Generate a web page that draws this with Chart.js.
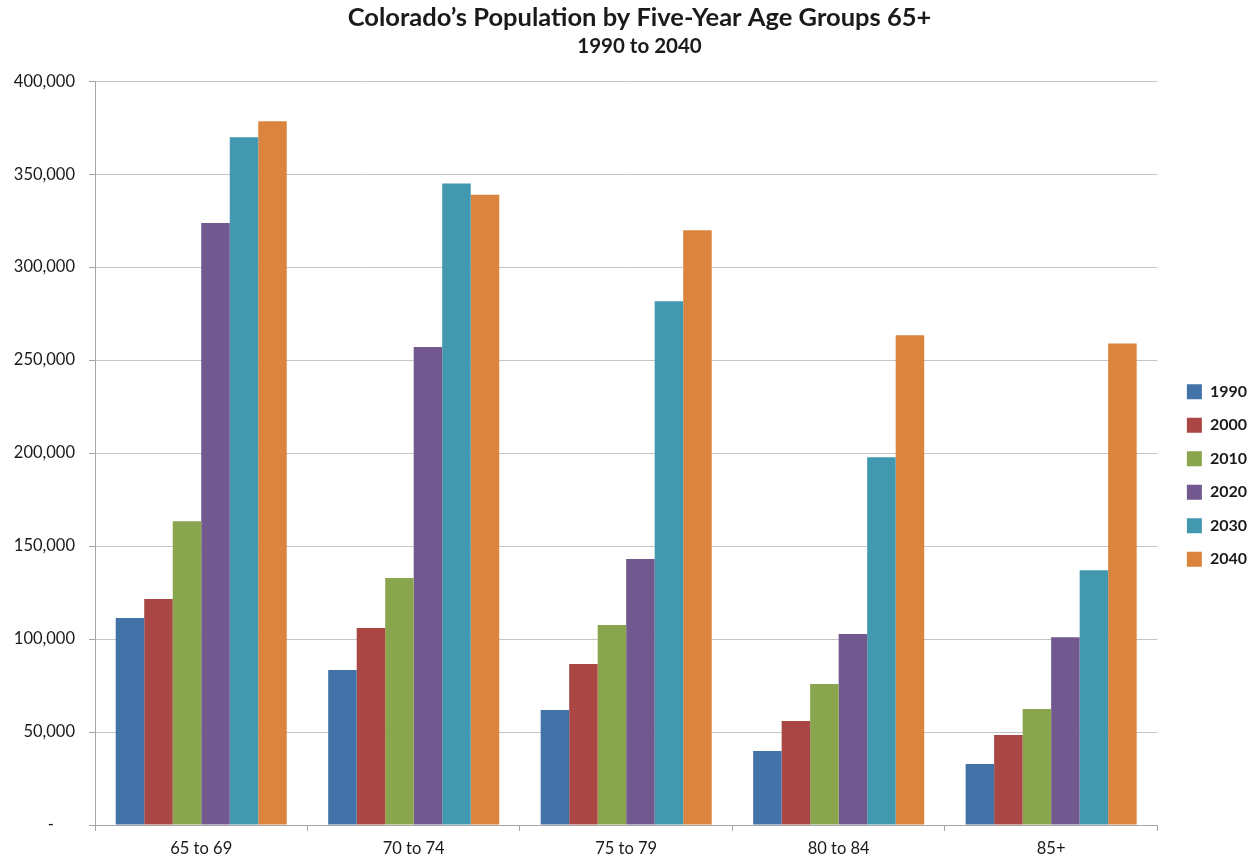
<!DOCTYPE html>
<html>
<head>
<meta charset="utf-8">
<script src="https://cdn.jsdelivr.net/npm/chart.js@4/dist/chart.umd.min.js"></script>
<style>
  html, body { margin: 0; padding: 0; background: #fff; }
  #wrap { width: 1253px; height: 859px; }
</style>
</head>
<body>
<div id="wrap"><canvas id="popChart"></canvas></div>
<script>
// age groups on the x axis
const ageGroups = ['65 to 69', '70 to 74', '75 to 79', '80 to 84', '85+'];

// population by year, one value per age group
const pop1990 = [111300, 83300, 61800, 39800, 32800];
const pop2000 = [121500, 105900, 86600, 55900, 48400];
const pop2010 = [163400, 132800, 107500, 75800, 62400];
const pop2020 = [323700, 257000, 143000, 102700, 101000];
const pop2030 = [369900, 345000, 281700, 197800, 137000];
const pop2040 = [378500, 339000, 319900, 263400, 259000];

const yearLabels = ['1990', '2000', '2010', '2020', '2030', '2040'];
const seriesColors = ['#4372A9', '#AA4643', '#89A54E', '#71588F', '#4198AF', '#DB843D'];

const allSeries = [pop1990, pop2000, pop2010, pop2020, pop2030, pop2040];

const FONT = 'Lato, "Open Sans", sans-serif';

// nudge legend right/down and titles right, like the original sheet
const boxNudge = {
    id: 'boxNudge',
    afterLayout: function(chart) {
        chart.boxes.forEach(function(box) {
            if (box === chart.legend) {
                box.left += 12;
                box.right += 12;
                box.top += 46;
                box.bottom += 46;
            } else if (box.position === 'top' && !box.axis) {
                box.left += 17;
                box.right += 17;
            }
        });
    }
};

const ctx = document.getElementById('popChart').getContext('2d');
new Chart(ctx, {
    type: 'bar',
    data: {
        labels: ageGroups,
        datasets: allSeries.map(function(values, i) {
            return {
                label: yearLabels[i],
                data: values,
                backgroundColor: seriesColors[i],
                borderWidth: 0,
                categoryPercentage: 0.805,
                barPercentage: 1.0
            };
        })
    },
    plugins: [boxNudge],
    options: {
        responsive: true,
        maintainAspectRatio: false,
        animation: false,
        layout: {
            padding: { left: 0, right: 8, top: 0, bottom: 0 }
        },
        plugins: {
            title: {
                display: true,
                text: 'Colorado\u2019s Population by Five-Year Age Groups 65+',
                color: '#1a1a1a',
                font: { family: FONT, size: 25.5, weight: 'bold' },
                padding: { top: 2, bottom: 0 }
            },
            subtitle: {
                display: true,
                text: '1990 to 2040',
                color: '#1a1a1a',
                font: { family: FONT, size: 20.5, weight: 'bold' },
                padding: { top: 1, bottom: 23 }
            },
            legend: {
                position: 'right',
                labels: {
                    boxWidth: 15,
                    boxHeight: 15,
                    padding: 17.5,
                    color: '#1a1a1a',
                    font: { family: FONT, size: 16, weight: 'bold' }
                }
            },
            tooltip: { enabled: false }
        },
        scales: {
            x: {
                afterFit: function(scale) { scale.height = 34; },
                grid: {
                    offset: true,
                    drawOnChartArea: false,
                    color: '#A6A6A6',
                    tickLength: 6
                },
                border: { color: '#A6A6A6' },
                ticks: {
                    color: '#1a1a1a',
                    padding: 8,
                    font: { family: FONT, size: 16.5 }
                }
            },
            y: {
                min: 0,
                max: 400000,
                afterFit: function(scale) { scale.width = 95; },
                grid: {
                    color: '#C4C4C4',
                    tickLength: 6,
                    tickColor: '#A6A6A6'
                },
                border: { color: '#A6A6A6' },
                ticks: {
                    stepSize: 50000,
                    color: '#1a1a1a',
                    padding: 14,
                    font: { family: FONT, size: 16.5 },
                    callback: function(value) {
                        return value === 0 ? '-     ' : value.toLocaleString('en-US');
                    }
                }
            }
        }
    }
});
</script>
</body>
</html>
